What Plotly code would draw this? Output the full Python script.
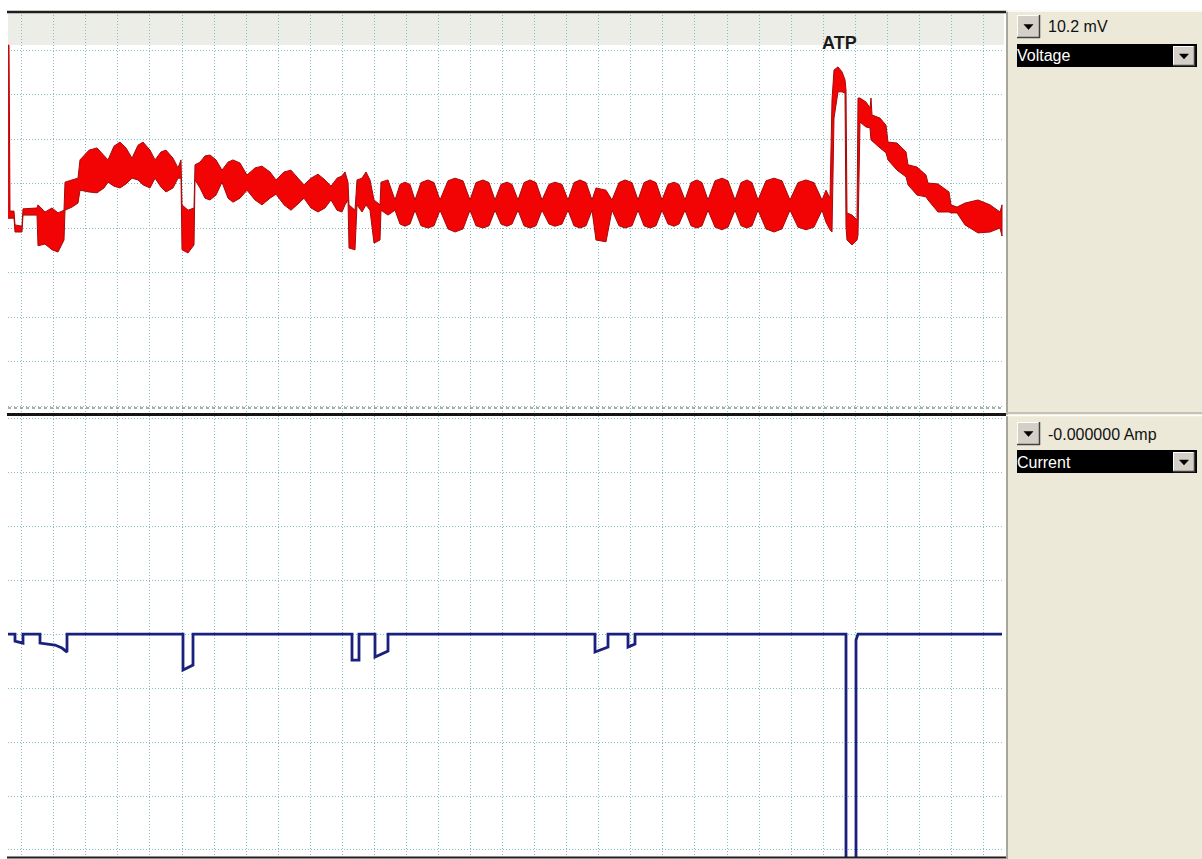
import plotly.graph_objects as go

W, H = 1202, 859

# ---- Voltage channel (mV): upper / lower edge of the oscillating trace ----
# early part of the recording, before the regular oscillation train
t_early = [0.0, 0.1, 0.2, 0.6, 0.7, 1.4, 1.5, 2.9, 3.0, 3.7, 4.4, 5.0, 5.6, 5.7, 6.4,
           7.0, 7.2, 8.1, 8.9, 9.6, 10.0, 10.6, 11.2, 11.8, 12.4, 13.0, 13.5, 14.2,
           14.7, 15.3, 15.8, 16.5, 17.0, 17.3, 17.4, 18.0, 18.6, 18.7, 19.2, 19.7,
           20.2, 20.8, 21.4, 22.0, 22.5, 23.2, 23.9, 24.7, 25.4, 26.2, 26.8, 27.6,
           28.3, 29.0, 29.6, 30.3, 31.0, 31.7, 32.3, 32.9, 33.4, 33.7, 34.0, 34.1,
           34.7, 34.9, 35.4, 35.8, 36.2, 36.6, 37.2, 37.3, 38.0]
top_early = [1.1, 1.1, -36.2, -36.2, -39.3, -39.6, -35.7, -35.5, -34.8, -36.4, -35.5,
             -36.6, -36.0, -29.7, -29.2, -28.8, -24.7, -22.5, -22.0, -23.6, -24.7,
             -21.6, -20.7, -22.0, -24.3, -21.4, -20.7, -22.5, -24.7, -22.9, -22.5,
             -24.3, -26.5, -24.7, -34.8, -36.0, -35.5, -25.8, -25.2, -23.8, -23.6,
             -24.7, -27.0, -25.2, -24.7, -25.4, -28.1, -26.5, -26.1, -27.4, -29.2,
             -27.4, -27.0, -28.8, -30.3, -28.8, -27.9, -29.2, -30.6, -28.8, -28.3,
             -27.4, -29.7, -34.8, -36.0, -29.2, -28.8, -27.4, -29.2, -33.7, -34.8,
             -29.7, -29.2]
bot_early = [-37.8, -37.8, -37.8, -37.8, -40.9, -40.9, -37.1, -37.1, -44.0, -43.6,
             -44.9, -45.4, -42.7, -36.0, -35.3, -34.4, -31.5, -31.9, -32.1, -31.0,
             -29.7, -30.6, -31.0, -30.1, -28.8, -29.2, -30.3, -31.0, -28.8, -30.8,
             -31.9, -31.0, -28.8, -28.8, -44.9, -45.6, -43.8, -29.2, -31.0, -33.3,
             -33.7, -32.6, -29.7, -33.3, -34.2, -33.3, -31.5, -33.7, -34.8, -33.3,
             -32.4, -34.8, -36.0, -34.6, -33.3, -35.5, -36.4, -35.5, -33.7, -36.0,
             -36.4, -34.8, -33.7, -44.5, -44.9, -34.8, -36.4, -34.8, -36.0, -43.4,
             -42.7, -36.0, -37.1]

# regular oscillation train (waist, shoulder, crest, shoulder for each burst)
t_train = [38.7, 39.2, 39.7, 40.2, 40.7, 41.3, 42.0, 42.6, 43.2, 44.0, 44.7, 45.5,
           46.2, 46.8, 47.5, 48.1, 48.7, 49.3, 49.9, 50.4, 51.0, 51.6, 52.2, 52.8,
           53.4, 54.1, 54.7, 55.4, 56.0, 56.6, 57.2, 57.8, 58.4, 58.8, 59.8, 60.4,
           61.1, 61.7, 62.4, 63.0, 63.6, 64.2, 64.8, 65.4, 66.0, 66.6, 67.1, 67.7,
           68.3, 68.9, 69.4, 70.0, 70.7, 71.4, 72.0, 72.7, 73.3, 73.9, 74.4, 75.0,
           75.8, 76.6, 77.4, 78.2, 79.0, 79.8, 80.6, 81.4]
top_train = [-33.7, -30.2, -29.7, -30.2, -33.7, -29.8, -29.2, -29.8, -33.7, -29.4,
             -28.8, -29.4, -33.7, -29.8, -29.2, -29.8, -33.7, -30.2, -29.7, -30.2,
             -33.7, -29.8, -29.2, -29.8, -33.7, -30.2, -29.7, -30.2, -33.7, -29.8,
             -29.2, -29.8, -33.7, -31.0, -31.5, -33.7, -29.8, -29.2, -29.8, -33.7,
             -29.8, -29.2, -29.8, -33.7, -30.2, -29.7, -30.2, -33.7, -29.8, -29.2,
             -29.8, -33.7, -29.4, -28.8, -29.4, -33.7, -29.8, -29.2, -29.8, -33.7,
             -29.4, -28.8, -29.4, -33.7, -29.8, -29.2, -29.8, -33.7]
bot_train = [-36.0, -39.1, -39.6, -39.1, -36.0, -39.5, -40.0, -39.5, -36.0, -40.2,
             -40.9, -40.2, -36.0, -39.5, -40.0, -39.5, -36.0, -39.1, -39.6, -39.1,
             -36.0, -39.5, -40.0, -39.5, -36.0, -39.1, -39.6, -39.1, -36.0, -39.5,
             -40.0, -39.5, -36.0, -42.7, -43.1, -36.0, -39.5, -40.0, -39.5, -36.0,
             -39.5, -40.0, -39.5, -36.0, -39.1, -39.6, -39.1, -36.0, -39.5, -40.0,
             -39.5, -36.0, -39.8, -40.4, -39.8, -36.0, -39.5, -40.0, -39.5, -36.0,
             -40.2, -40.9, -40.2, -36.0, -39.8, -40.4, -39.8, -36.0]

# ATP application and recovery
t_atp = [81.8, 82.2, 82.4, 82.6, 83.0, 83.4, 83.7, 83.8, 83.9, 84.4, 84.9, 85.0, 85.2,
         85.8, 86.2, 86.3, 86.4, 87.2, 87.8, 88.0, 88.9, 89.8, 90.0, 90.9, 91.8, 92.0,
         93.0, 94.1, 94.3, 94.9, 95.7, 97.0, 98.2, 99.2, 99.4]
top_atp = [-31.5, -33.3, -11.2, -4.5, -3.8, -4.9, -6.7, -9.0, -36.6, -37.1, -38.2,
           -10.8, -10.8, -11.7, -13.0, -10.8, -14.6, -15.3, -16.9, -20.7, -20.9, -22.9,
           -25.8, -26.3, -28.1, -29.9, -30.1, -31.9, -34.8, -35.3, -34.4, -33.7, -34.8,
           -36.4, -34.8]
bot_atp = [-38.7, -40.4, -40.9, -15.3, -9.4, -9.4, -9.7, -39.8, -42.7, -43.8, -42.7,
           -41.6, -16.2, -17.3, -17.5, -20.2, -20.2, -22.0, -23.1, -24.7, -27.0, -28.5,
           -30.3, -32.6, -33.0, -33.7, -36.4, -36.4, -36.6, -36.6, -39.3, -41.1, -40.9,
           -40.0, -41.8]

t_v = t_early + t_train + t_atp
v_top = top_early + top_train + top_atp
v_bot = bot_early + bot_train + bot_atp
assert len(t_v) == len(v_top) == len(v_bot)

# ---- Current channel (pA) ----
t_i = [0.0, 0.7, 0.7, 1.5, 1.5, 3.2, 3.2, 4.7, 5.4, 5.9, 5.9, 17.5, 17.5, 18.5, 18.5,
       34.4, 34.4, 35.1, 35.1, 36.7, 36.7, 38.0, 38.0, 58.7, 58.7, 60.0, 60.0, 62.0,
       62.0, 62.7, 62.7, 83.8, 83.8, 84.8, 84.8, 85.0, 99.4]
i_pA = [0, 0, -13.0, -16.7, 0, 0, -16.7, -20.4, -25.9, -33.3, 0, 0, -66.7, -57.4, 0,
        0, -48.2, -48.2, 0, 0, -42.6, -31.5, 0, 0, -33.3, -24.1, 0, 0,
        -24.1, -18.5, 0, 0, -450, -450, -11.1, 0, 0]
assert len(t_i) == len(i_pA)

GRID = "rgb(135,188,194)"


def px(x, y):
    """Pixel position on the page -> paper coordinates."""
    return x / W, 1 - y / H


fig = go.Figure()

fig.add_trace(go.Scatter(
    x=t_v + t_v[::-1], y=v_top + v_bot[::-1], mode="lines", fill="toself",
    fillcolor="rgb(242,4,4)", line=dict(color="rgb(165,10,10)", width=1),
    xaxis="x", yaxis="y", hoverinfo="skip", showlegend=False))

fig.add_trace(go.Scatter(
    x=t_i, y=i_pA, mode="lines", line=dict(color="rgb(26,32,125)", width=2.8),
    xaxis="x2", yaxis="y2", hoverinfo="skip", showlegend=False))

axis_common = dict(showgrid=True, gridcolor=GRID, griddash="1px,2px", gridwidth=1,
                   showticklabels=False, zeroline=False, showline=False, ticks="",
                   fixedrange=True)

x0, _ = px(8, 0)
x1, _ = px(1004, 0)
_, yt1 = px(0, 12)
_, yt0 = px(0, 413)
_, yb1 = px(0, 416)
_, yb0 = px(0, 857)

fig.update_layout(
    width=W, height=H, autosize=False,
    margin=dict(l=0, r=0, t=0, b=0),
    paper_bgcolor="white", plot_bgcolor="white",
    xaxis=dict(domain=[x0, x1], range=[0, 99.6], tick0=1.37, dtick=3.206,
               anchor="y", **axis_common),
    yaxis=dict(domain=[yt0, yt1], range=[-81.57, 8.54], tick0=0, dtick=10,
               anchor="x", **axis_common),
    xaxis2=dict(domain=[x0, x1], range=[0, 99.6], tick0=1.37, dtick=3.206,
                anchor="y2", **axis_common),
    yaxis2=dict(domain=[yb0, yb1], range=[-413, 404], tick0=0, dtick=100,
                anchor="x2", **axis_common),
    showlegend=False,
)

shapes = []


def rect(xa, ya, xb, yb, fill, line=None, lw=0, layer="above"):
    pa, qa = px(xa, ya)
    pb, qb = px(xb, yb)
    shapes.append(dict(type="rect", xref="paper", yref="paper", x0=pa, y0=qb, x1=pb, y1=qa,
                       fillcolor=fill, line=dict(color=line or fill, width=lw), layer=layer))


def hline(xa, xb, y, color, width, dash="solid", layer="above"):
    pa, q = px(xa, y)
    pb, _ = px(xb, y)
    shapes.append(dict(type="line", xref="paper", yref="paper", x0=pa, x1=pb, y0=q, y1=q,
                       line=dict(color=color, width=width, dash=dash), layer=layer))


def vline(x, ya, yb, color, width):
    p, qa = px(x, ya)
    _, qb = px(x, yb)
    shapes.append(dict(type="line", xref="paper", yref="paper", x0=p, x1=p, y0=qa, y1=qb,
                       line=dict(color=color, width=width)))


def tri(cx, cy):
    pts = [px(cx - 4.5, cy - 2), px(cx + 4.5, cy - 2), px(cx, cy + 3)]
    path = "M {} {} L {} {} L {} {} Z".format(*[c for p in pts for c in p])
    shapes.append(dict(type="path", xref="paper", yref="paper", path=path,
                       fillcolor="black", line=dict(color="black", width=0.5)))


def button(xa, ya, xb, yb):
    rect(xa, ya, xb, yb, "#D4D0C8")
    hline(xa, xb, ya + 0.5, "white", 1)
    vline(xa + 0.5, ya, yb, "white", 1)
    hline(xa, xb, yb - 0.5, "#404040", 1.5)
    vline(xb - 0.5, ya, yb, "#404040", 1.5)
    tri((xa + xb) / 2, (ya + yb) / 2)


# hatched strip along the top of the voltage panel
rect(8, 13, 1004, 45, "#EDEDE8", layer="below")
# dashed row above the panel divider
hline(8, 1004, 408, "#8C948C", 1.5, dash="dot")

# side panel
rect(1006, 10, 1202, 859, "#ECE9D8")
vline(1007, 10, 859, "#A7A69C", 2)
hline(1006, 1202, 11, "#FFFFFF", 1.5)
hline(1006, 1202, 413, "#B8B5A8", 1.5)
hline(1006, 1202, 415.5, "#FFFFFF", 1.5)

# frame lines
hline(7, 1006, 12, "#1E1E1E", 2.5)
hline(7, 1006, 414.5, "#151515", 3)
hline(7, 1006, 857.5, "#1E1E1E", 2)

# voltage channel controls
button(1017, 15, 1040, 38)
rect(1017, 44, 1197, 67, "black")
button(1173, 46, 1195, 66)

# current channel controls
button(1017, 422, 1040, 445)
rect(1017, 450, 1197, 473, "black")
button(1173, 452, 1195, 472)

fig.update_layout(shapes=shapes)

FONT = "Liberation Sans, Arial, sans-serif"


def label(x, y, text, color="#111111", size=16, anchor="left", bold=False):
    p, q = px(x, y)
    fig.add_annotation(x=p, y=q, xref="paper", yref="paper",
                       text=f"<b>{text}</b>" if bold else text,
                       showarrow=False, xanchor=anchor, yanchor="middle",
                       font=dict(family=FONT, size=size, color=color), borderpad=0)


label(1047, 27, "10.2 mV")
label(1016, 56, "Voltage", color="white")
label(1047, 434, "-0.000000 Amp")
label(1016, 462, "Current", color="white")
label(839, 43, "ATP", color="#1A1A1A", size=18, anchor="center", bold=True)

fig.write_html("out.html")
